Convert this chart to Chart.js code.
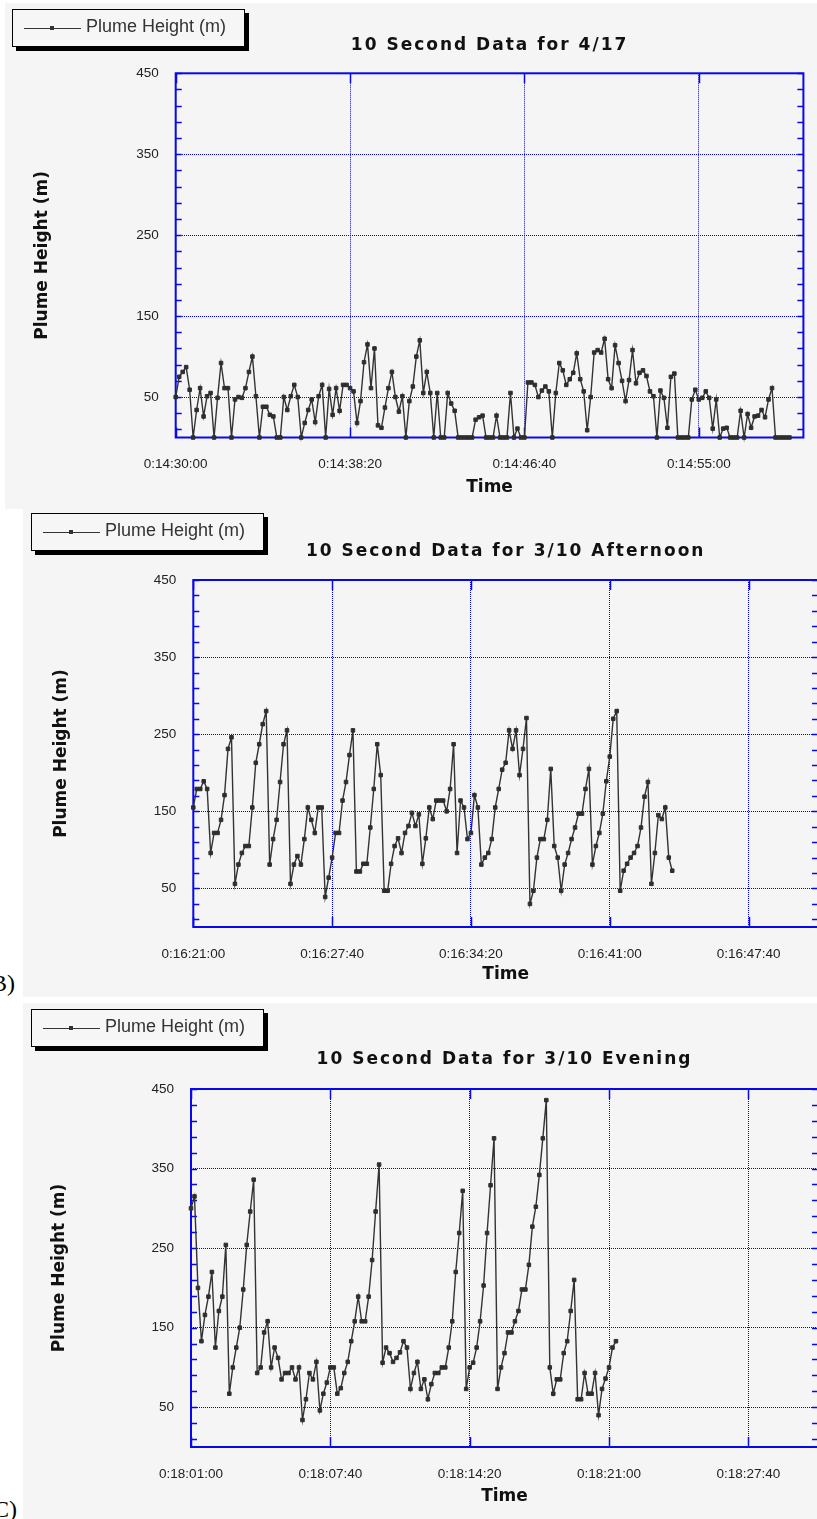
<!DOCTYPE html>
<html>
<head>
<meta charset="utf-8">
<title>10 Second Data - Plume Height</title>
<script src="https://cdn.jsdelivr.net/npm/chart.js@4.4.0/dist/chart.umd.min.js"></script>
<style>
  html, body { margin: 0; padding: 0; background: #fff; }
  body { width: 817px; height: 1519px; position: relative; overflow: hidden; }
  .panel { position: absolute; background: #f5f5f5; overflow: hidden; }
  .panel canvas { position: absolute; left: 0; top: 0; }
  .legend {
    position: absolute; box-sizing: border-box; width: 233px; height: 38px;
    border: 1.5px solid #000; box-shadow: 4px 4px 0 #000; background: #f6f6f6;
  }
  .legend .swatch { position: absolute; left: 11px; top: 18px; width: 57px; height: 0; border-top: 1px solid #333; }
  .legend .swatch i { position: absolute; left: 26px; top: -3px; width: 4px; height: 4px; background: #333; }
  .legend .ltext {
    position: absolute; left: 73px; top: 6px; line-height: 22px;
    font: 18px "Liberation Sans", Arial, sans-serif; color: #333; white-space: nowrap;
  }
  .tag { position: absolute; font: 24px "Liberation Serif", "Times New Roman", serif; color: #000; line-height: 24px; }
</style>
</head>
<body>

<div class="panel" id="p1" style="left:5px; top:3px; width:812px; height:506px;">
  <canvas id="chartApril" width="812" height="506"></canvas>
  <div class="legend" style="left:7px; top:6px;"><span class="swatch"><i></i></span><span class="ltext">Plume Height (m)</span></div>
</div>

<div class="panel" id="p2" style="left:23px; top:509px; width:794px; height:488px;">
  <canvas id="chartAfternoon" width="800" height="488"></canvas>
  <div class="legend" style="left:8px; top:4px;"><span class="swatch"><i></i></span><span class="ltext">Plume Height (m)</span></div>
</div>

<div class="panel" id="p3" style="left:23px; top:1003px; width:794px; height:516px;">
  <canvas id="chartEvening" width="800" height="516"></canvas>
  <div class="legend" style="left:8px; top:6px;"><span class="swatch"><i></i></span><span class="ltext">Plume Height (m)</span></div>
</div>

<div class="tag" style="left:-9px; top:971px;">B)</div>
<div class="tag" style="left:-7px; top:1497px;">C)</div>

<script>
  // 10 second samples, x axis in seconds from the first sample
  const STEP_SECONDS = 10;
  const X_SPAN_SECONDS = 1800;
  const Y_MIN = 0;
  const Y_MAX = 450;
  const yTickValues = [50, 150, 250, 350, 450];
  const MINOR_TICK_START = 10;
  const MINOR_TICK_STEP = 20;

  // 4/17
  const aprilTickSeconds = [0, 500, 1000, 1500];
  const aprilTickLabels = ['0:14:30:00', '0:14:38:20', '0:14:46:40', '0:14:55:00'];
  const aprilHeights = [
    50, 75, 81, 87, 59, 0, 34, 61, 26, 51, 55, 0, 49, 92, 61, 61, 0, 47, 50, 49,
    61, 81, 100, 51, 0, 38, 38, 28, 26, 0, 0, 50, 34, 51, 65, 50, 0, 18, 34, 47,
    19, 51, 65, 0, 60, 28, 61, 33, 65, 65, 61, 57, 18, 45, 93, 115, 61, 110, 15, 12,
    37, 61, 81, 50, 32, 51, 0, 45, 63, 100, 120, 55, 81, 55, 0, 55, 0, 0, 55, 42,
    33, 0, 0, 0, 0, 0, 22, 25, 27, 0, 0, 0, 27, 0, 0, 0, 55, 0, 11, 0,
    0, 68, 68, 65, 50, 58, 63, 57, 0, 55, 92, 83, 65, 72, 80, 104, 72, 57, 9, 50,
    105, 108, 105, 122, 72, 61, 114, 92, 70, 45, 71, 108, 67, 80, 83, 76, 57, 51, 0, 58,
    49, 12, 75, 79, 0, 0, 0, 0, 47, 59, 47, 49, 57, 49, 11, 47, 0, 11, 12, 0,
    0, 0, 33, 0, 29, 12, 26, 27, 34, 25, 47, 61, 0, 0, 0, 0, 0
  ];

  // 3/10 afternoon
  const afternoonTickSeconds = [0, 400, 800, 1200, 1600];
  const afternoonTickLabels = ['0:16:21:00', '0:16:27:40', '0:16:34:20', '0:16:41:00', '0:16:47:40'];
  const afternoonHeights = [
    155, 179, 179, 189, 179, 96, 122, 122, 139, 171, 231, 246, 56, 81, 96, 105, 105, 155, 213, 237,
    263, 280, 81, 114, 139, 188, 237, 255, 56, 81, 92, 81, 114, 155, 139, 122, 155, 155, 39, 64,
    90, 122, 122, 164, 188, 223, 255, 72, 72, 82, 82, 129, 179, 237, 197, 47, 47, 82, 105, 115,
    96, 122, 131, 148, 131, 146, 82, 115, 155, 140, 164, 164, 164, 150, 179, 237, 96, 164, 155, 114,
    122, 171, 155, 81, 90, 96, 114, 155, 179, 204, 213, 255, 231, 255, 197, 231, 271, 30, 47, 90,
    114, 114, 139, 205, 105, 90, 47, 81, 96, 114, 129, 147, 147, 179, 205, 81, 105, 122, 147, 189,
    221, 270, 280, 47, 73, 82, 90, 96, 105, 129, 169, 188, 56, 96, 145, 140, 155, 90, 73
  ];

  // 3/10 evening
  const eveningTickSeconds = [0, 400, 800, 1200, 1600];
  const eveningTickLabels = ['0:18:01:00', '0:18:07:40', '0:18:14:20', '0:18:21:00', '0:18:27:40'];
  const eveningHeights = [
    300, 315, 200, 133, 166, 189, 220, 125, 171, 189, 254, 67, 100, 125, 150, 198, 254, 296, 336, 93,
    100, 144, 158, 100, 125, 112, 85, 93, 93, 100, 85, 100, 34, 60, 93, 85, 107, 46, 67, 81,
    100, 100, 67, 74, 93, 107, 133, 158, 189, 158, 158, 189, 235, 296, 355, 106, 125, 118, 107, 112,
    119, 133, 125, 73, 93, 107, 73, 85, 60, 79, 93, 93, 100, 100, 125, 158, 220, 269, 322, 73,
    100, 106, 125, 158, 203, 269, 329, 388, 73, 100, 118, 144, 144, 158, 171, 198, 198, 229, 277, 302,
    342, 388, 436, 100, 67, 85, 85, 118, 133, 171, 210, 60, 60, 93, 67, 67, 93, 40, 73, 86,
    100, 125, 133
  ];

  const FRAME_BLUE = '#0808ee';
  const GRID_BLUE = '#0000ff';
  const MARK_GRAY = '#2e2e2e';

  // wide bold title like the original plotting program
  const spacedTitle = {
    id: 'spacedTitle',
    beforeDraw(chart) {
      const block = chart.titleBlock;
      if (!block || block._spaced) return;
      const draw = block.draw;
      block.draw = function () {
        this.ctx.save();
        this.ctx.letterSpacing = '2px';
        draw.apply(this, arguments);
        this.ctx.restore();
      };
      block._spaced = true;
    }
  };

  // blue box round the plot, small inward ticks on both side axes and at the time ticks
  const plotFrame = {
    id: 'plotFrame',
    beforeDatasetsDraw(chart) {
      const { ctx, chartArea: a, scales: { x, y } } = chart;
      ctx.save();
      ctx.strokeStyle = FRAME_BLUE;
      ctx.lineWidth = 2;
      ctx.strokeRect(a.left, a.top, a.right - a.left, a.bottom - a.top);

      ctx.lineWidth = 1.5;
      ctx.beginPath();
      for (let v = MINOR_TICK_START; v <= Y_MAX; v += MINOR_TICK_STEP) {
        const py = Math.round(y.getPixelForValue(v)) + 0.5;
        ctx.moveTo(a.left, py); ctx.lineTo(a.left + 6, py);
        ctx.moveTo(a.right, py); ctx.lineTo(a.right - 6, py);
      }
      x.ticks.forEach(t => {
        const px = Math.round(x.getPixelForValue(t.value)) + 0.5;
        ctx.moveTo(px, a.bottom); ctx.lineTo(px, a.bottom - 10);
        ctx.moveTo(px, a.top); ctx.lineTo(px, a.top + 10);
      });
      ctx.stroke();
      ctx.restore();
    }
  };

  function makeChart(canvasId, title, heights, tickSeconds, tickLabels, box) {
    const ctx = document.getElementById(canvasId).getContext('2d');
    const boldFont = { family: '"DejaVu Sans", sans-serif', weight: 'bold', size: 17, lineHeight: 1.2 };
    const half = 10.2; // half of the bold line height
    const tickFont = { family: '"Liberation Sans", Arial, sans-serif', size: 13.5 };

    return new Chart(ctx, {
      type: 'line',
      data: {
        datasets: [{
          label: 'Plume Height (m)',
          data: heights.map((h, i) => ({ x: i * STEP_SECONDS, y: h })),
          borderColor: '#333',
          borderWidth: 1.4,
          pointStyle: 'rect',
          pointRadius: 2.5,
          pointBorderWidth: 1,
          pointBackgroundColor: MARK_GRAY,
          pointBorderColor: MARK_GRAY,
          tension: 0,
          clip: false
        }]
      },
      options: {
        responsive: false,
        animation: false,
        events: [],
        layout: { padding: { left: 0, top: 0, right: box.w - box.right, bottom: 0 } },
        plugins: {
          legend: { display: false },
          tooltip: { enabled: false },
          title: {
            display: true,
            text: title,
            fullSize: false,
            color: '#111',
            font: boldFont,
            padding: { top: box.titleY - half, bottom: box.top - box.titleY - half }
          }
        },
        scales: {
          x: {
            type: 'linear',
            min: 0,
            max: X_SPAN_SECONDS,
            afterBuildTicks: s => { s.ticks = tickSeconds.map(v => ({ value: v })); },
            afterFit: s => { s.height = box.h - box.bottom; },
            grid: { color: GRID_BLUE, lineWidth: 1, drawTicks: false },
            border: { display: false, dash: [1, 1] },
            ticks: {
              autoSkip: false,
              maxRotation: 0,
              padding: 19,
              color: '#222',
              font: tickFont,
              callback: (v, i) => tickLabels[i]
            },
            title: {
              display: true,
              text: 'Time',
              color: '#111',
              font: boldFont,
              padding: { top: 0, bottom: box.h - box.timeY - half }
            }
          },
          y: {
            min: Y_MIN,
            max: Y_MAX,
            afterBuildTicks: s => { s.ticks = yTickValues.map(v => ({ value: v })); },
            afterFit: s => { s.width = box.left; },
            grid: { color: GRID_BLUE, lineWidth: 1, drawTicks: false },
            border: { display: false, dash: [1, 1] },
            ticks: {
              padding: 17,
              color: '#222',
              font: tickFont,
              callback: v => String(v)
            },
            title: {
              display: true,
              text: 'Plume Height (m)',
              color: '#111',
              font: boldFont,
              padding: { top: box.yTitleX - half, bottom: 0 }
            }
          }
        }
      },
      plugins: [spacedTitle, plotFrame]
    });
  }

  makeChart('chartApril', '10 Second Data for 4/17', aprilHeights, aprilTickSeconds, aprilTickLabels,
    { w: 812, h: 506, left: 170.7, right: 798.4, top: 70.3, bottom: 434.5, titleY: 43, timeY: 485, yTitleX: 38 });

  makeChart('chartAfternoon', '10 Second Data for 3/10 Afternoon', afternoonHeights, afternoonTickSeconds, afternoonTickLabels,
    { w: 800, h: 488, left: 170.3, right: 797.6, top: 71, bottom: 418, titleY: 43, timeY: 466, yTitleX: 39 });

  makeChart('chartEvening', '10 Second Data for 3/10 Evening', eveningHeights, eveningTickSeconds, eveningTickLabels,
    { w: 800, h: 516, left: 168, right: 795.75, top: 86, bottom: 444, titleY: 57, timeY: 494, yTitleX: 37 });
</script>
</body>
</html>
